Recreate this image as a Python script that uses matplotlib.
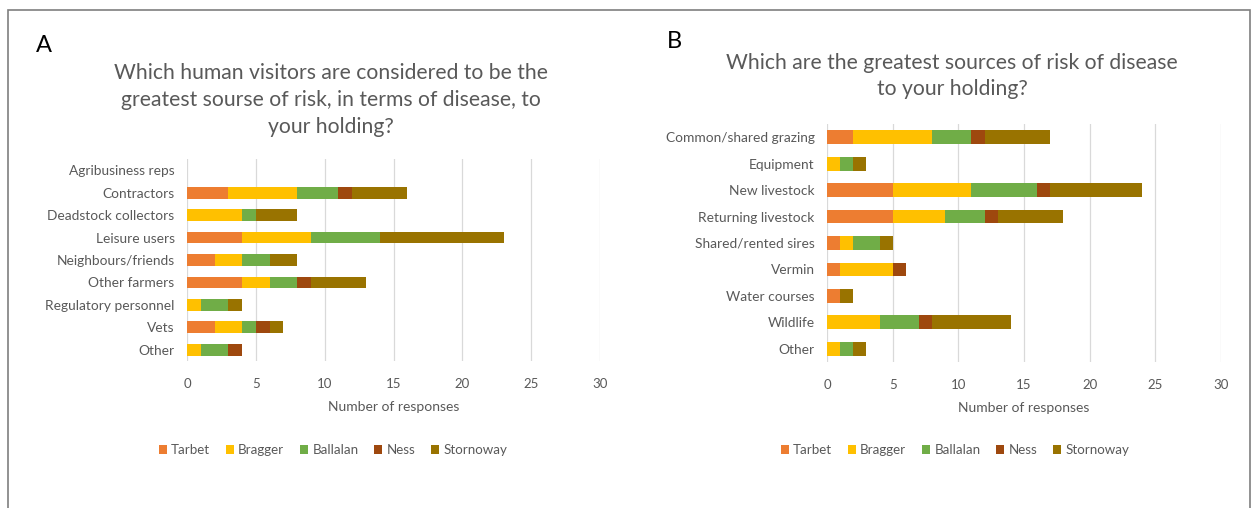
import matplotlib
matplotlib.use('Agg')
import matplotlib.pyplot as plt
import numpy as np
from matplotlib.patches import Rectangle

plt.rcParams['font.family'] = ['Lato', 'DejaVu Sans']

SITES = ["Tarbet", "Bragger", "Ballalan", "Ness", "Stornoway"]
SITE_COLORS = ["#ED7D31", "#FFC000", "#70AD47", "#9E480E", "#997300"]

# Panel A: human visitors
cats_a = ["Agribusiness reps", "Contractors", "Deadstock collectors", "Leisure users",
          "Neighbours/friends", "Other farmers", "Regulatory personnel", "Vets", "Other"]
tarbet_a = [0, 3, 0, 4, 2, 4, 0, 2, 0]
bragger_a = [0, 5, 4, 5, 2, 2, 1, 2, 1]
ballalan_a = [0, 3, 1, 5, 2, 2, 2, 1, 2]
ness_a = [0, 1, 0, 0, 0, 1, 0, 1, 1]
stornoway_a = [0, 4, 3, 9, 2, 4, 1, 1, 0]

# Panel B: sources of risk
cats_b = ["Common/shared grazing", "Equipment", "New livestock", "Returning livestock",
          "Shared/rented sires", "Vermin", "Water courses", "Wildlife", "Other"]
tarbet_b = [2, 0, 5, 5, 1, 1, 1, 0, 0]
bragger_b = [6, 1, 6, 4, 1, 4, 0, 4, 1]
ballalan_b = [3, 1, 5, 3, 2, 0, 0, 3, 1]
ness_b = [1, 0, 1, 1, 0, 1, 0, 1, 0]
stornoway_b = [5, 1, 7, 5, 1, 0, 1, 6, 1]

title_a = "Which human visitors are considered to be the\ngreatest sourse of risk, in terms of disease, to\nyour holding?"
title_b = "Which are the greatest sources of risk of disease\nto your holding?"

GREY = "#595959"
W, H = 1257, 508

fig = plt.figure(figsize=(W / 100, H / 100), dpi=100)
fig.patch.set_facecolor("white")

# outer frame
fig.patches.append(Rectangle((8 / W, -0.05), 1242 / W, 1.04 - 5 / H,
                             transform=fig.transFigure, fill=False,
                             edgecolor="#7f7f7f", linewidth=1.2))


def draw_panel(rect, cats, series, legend_xy):
    ax = fig.add_axes(rect)
    y = np.arange(len(cats))
    left = np.zeros(len(cats))
    handles = []
    for name, vals, col in zip(SITES, series, SITE_COLORS):
        vals = np.array(vals, dtype=float)
        h = ax.barh(y, vals, left=left, color=col, height=0.52, label=name, zorder=3)
        handles.append(h)
        left += vals
    ax.set_yticks(y)
    ax.set_yticklabels(cats, fontsize=9.9, color=GREY)
    ax.set_ylim(len(cats) - 0.5, -0.5)
    ax.set_xlim(0, 30)
    ax.set_xticks(np.arange(0, 31, 5))
    ax.tick_params(axis='x', labelsize=9.5, labelcolor=GREY, length=0, pad=12)
    ax.tick_params(axis='y', length=0, pad=9)
    ax.grid(axis='x', color="#D9D9D9", linewidth=0.9, zorder=0)
    for s in ax.spines.values():
        s.set_visible(False)
    ax.set_xlabel("Number of responses", fontsize=10, color=GREY, labelpad=8)
    fig.legend(handles=handles, labels=SITES, loc='center',
               bbox_to_anchor=(legend_xy[0] / W, 1 - legend_xy[1] / H),
               ncol=5, frameon=False, fontsize=9.6, labelcolor=GREY,
               handlelength=0.6, handleheight=0.6, handletextpad=0.3,
               columnspacing=1.2)
    return ax


ax_a = draw_panel([187 / W, 1 - 361 / H, 413 / W, 202 / H], cats_a,
                  [tarbet_a, bragger_a, ballalan_a, ness_a, stornoway_a], (333, 450))
ax_b = draw_panel([827 / W, 1 - 362 / H, 394 / W, 238 / H], cats_b,
                  [tarbet_b, bragger_b, ballalan_b, ness_b, stornoway_b], (955, 450))

fig.text(331 / W, 1 - 100 / H, title_a, ha='center', va='center', fontsize=15.2,
         color=GREY, linespacing=1.42)
fig.text(952 / W, 1 - 76 / H, title_b, ha='center', va='center', fontsize=15.2,
         color=GREY, linespacing=1.42)
fig.text(36 / W, 1 - 45 / H, "A", fontsize=17, color="black", va='center')
fig.text(667 / W, 1 - 42 / H, "B", fontsize=17, color="black", va='center')

fig.savefig("out.png", dpi=100)
